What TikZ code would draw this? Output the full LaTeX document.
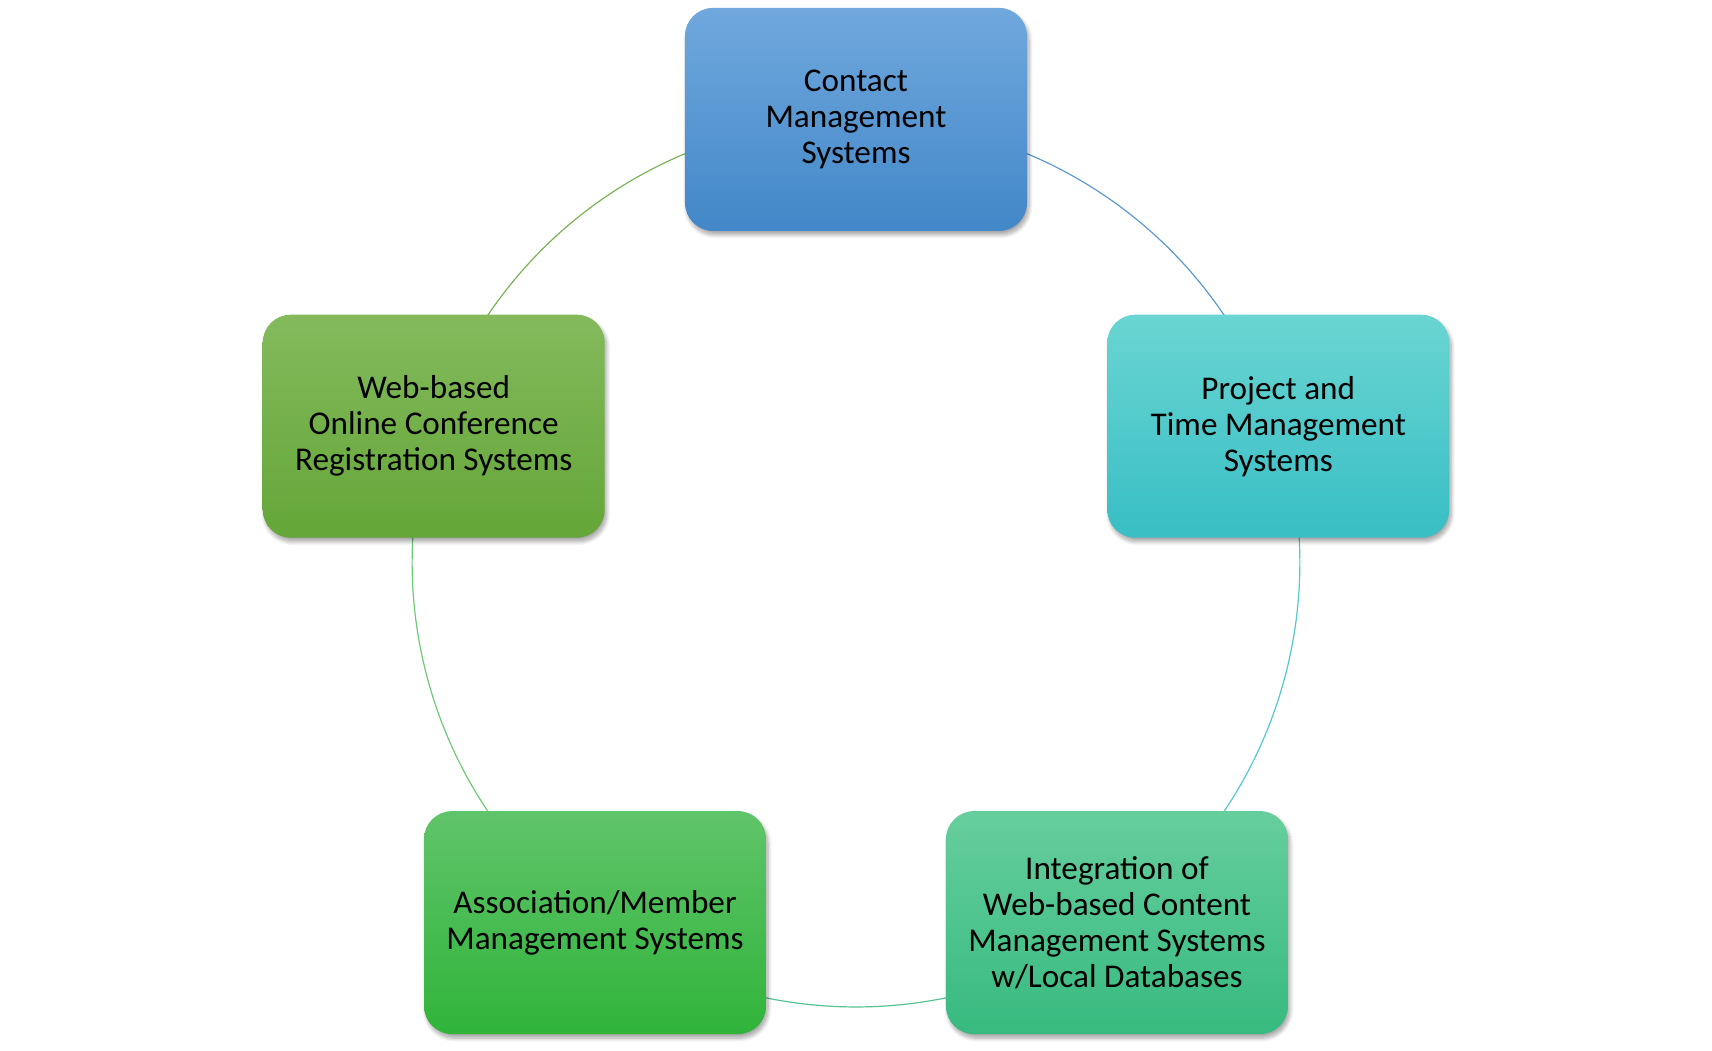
\documentclass[tikz,border=0pt]{standalone}
\usepackage{fontspec}
\setmainfont{Carlito}
\usetikzlibrary{positioning, backgrounds, shadows.blur}
\definecolor{cmstop}{RGB}{112,168,221}
\definecolor{cmsbot}{RGB}{66,135,200}
\definecolor{ptmtop}{RGB}{106,213,210}
\definecolor{ptmbot}{RGB}{56,190,196}
\definecolor{icmtop}{RGB}{102,206,157}
\definecolor{icmbot}{RGB}{55,186,127}
\definecolor{ammtop}{RGB}{96,196,106}
\definecolor{ammbot}{RGB}{48,180,58}
\definecolor{ocrtop}{RGB}{132,186,92}
\definecolor{ocrbot}{RGB}{100,166,56}
\tikzset{
  sysbox/.style={rounded corners=14pt, minimum width=171pt, minimum height=111.5pt,
    align=center, font=\fontsize{16.6}{18}\selectfont, text=black,
    blur shadow={shadow xshift=1pt, shadow yshift=-2pt, shadow blur steps=8, shadow opacity=35}},
  ring/.style={line width=0.6pt, bend left=36, looseness=0.94}
}
\begin{document}
\begin{tikzpicture}
\useasboundingbox (-428pt,-243.3pt) rectangle (428pt,281.7pt);
\node[sysbox, top color=cmstop, bottom color=cmsbot] (cms) at (90:222pt) {Contact\\Management\\Systems};
\node[sysbox, top color=ptmtop, bottom color=ptmbot] (ptm) at (18:222pt) {Project and\\Time Management\\Systems};
\node[sysbox, top color=icmtop, bottom color=icmbot] (icm) at (-54:222pt) {Integration of\\Web-based Content\\Management Systems\\w/Local Databases};
\node[sysbox, top color=ammtop, bottom color=ammbot] (amm) at (-126:222pt) {Association/Member\\Management Systems};
\node[sysbox, top color=ocrtop, bottom color=ocrbot] (ocr) at (162:222pt) {Web-based\\Online Conference\\Registration Systems};
\begin{scope}[on background layer]
\draw[ring, draw=cmsbot!85] (cms.center) to (ptm.center);
\draw[ring, draw=ptmbot!85] (ptm.center) to (icm.center);
\draw[ring, draw=icmbot!85] (icm.center) to (amm.center);
\draw[ring, draw=ammbot!70] (amm.center) to (ocr.center);
\draw[ring, draw=ocrbot!85] (ocr.center) to (cms.center);
\end{scope}
\end{tikzpicture}
\end{document}
